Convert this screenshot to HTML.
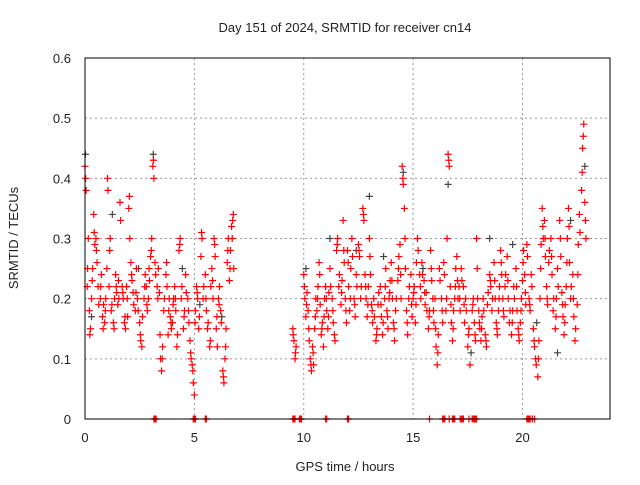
<!DOCTYPE html>
<html><head><meta charset="utf-8"><style>
body{margin:0;background:#fff}
svg text{font-family:"Liberation Sans",sans-serif;font-size:13px;fill:#222}
</style></head><body>
<svg id="chart" width="640" height="480" xmlns="http://www.w3.org/2000/svg">
<text x="345" y="32" text-anchor="middle">Day 151 of 2024, SRMTID for receiver cn14</text>
<text x="345" y="471" text-anchor="middle">GPS time / hours</text>
<text transform="translate(18,238) rotate(-90)" text-anchor="middle">SRMTID / TECUs</text>
<g id="grid"></g><g id="ticks"></g><g id="pts"></g>
<rect x="85" y="58" width="525" height="361" fill="none" stroke="#000" stroke-width="1"/>
</svg>
<script>
const xTicks=[0,5,10,15,20];
const yTicks=[0,0.1,0.2,0.3,0.4,0.5,0.6];
const yTickLabels=["0","0.1","0.2","0.3","0.4","0.5","0.6"];
const redPoints=[[0,0.42],[0.05,0.38],[0.1,0.22],[0.15,0.3],[0.2,0.18],[0.25,0.15],[0.3,0.2],[0.35,0.25],[0.4,0.34],[0.45,0.29],[0.5,0.3],[0.55,0.26],[0.6,0.22],[0.7,0.2],[0.75,0.24],[0.8,0.17],[0.85,0.19],[0.9,0.16],[0.95,0.2],
[1.0,0.25],[1.05,0.38],[1.1,0.22],[1.15,0.3],[1.2,0.18],[1.3,0.16],[1.35,0.2],[1.4,0.24],[1.45,0.21],[1.5,0.19],[1.55,0.2],[1.6,0.36],[1.7,0.22],[1.75,0.2],[1.8,0.16],[1.85,0.15],[1.9,0.22],[1.95,0.17],
[2.0,0.35],[2.05,0.3],[2.1,0.26],[2.15,0.23],[2.2,0.21],[2.3,0.18],[2.35,0.25],[2.4,0.2],[2.5,0.16],[2.55,0.13],[2.6,0.12],[2.7,0.2],[2.75,0.24],[2.8,0.22],[2.85,0.18],[2.9,0.2],[2.95,0.23],
[3.0,0.27],[3.05,0.3],[3.1,0.42],[3.15,0.4],[3.2,0.26],[3.3,0.22],[3.35,0.25],[3.4,0.21],[3.45,0.1],[3.5,0.08],[3.55,0.12],[3.6,0.18],[3.7,0.24],[3.75,0.22],[3.8,0.14],[3.85,0.2],[3.9,0.17],[3.95,0.15],
[4.0,0.16],[4.05,0.2],[4.1,0.22],[4.15,0.18],[4.2,0.12],[4.3,0.28],[4.35,0.3],[4.4,0.2],[4.5,0.15],[4.55,0.18],[4.6,0.24],[4.7,0.2],[4.75,0.16],[4.8,0.13],[4.85,0.1],[4.9,0.09],[4.95,0.06],
[5.0,0.04],[5.05,0.18],[5.1,0.22],[5.15,0.2],[5.2,0.15],[5.3,0.27],[5.35,0.3],[5.4,0.2],[5.5,0.24],[5.55,0.18],[5.6,0.15],[5.7,0.12],[5.75,0.22],[5.8,0.25],[5.85,0.2],[5.9,0.3],[5.95,0.27],
[6.0,0.15],[6.05,0.12],[6.1,0.2],[6.15,0.22],[6.2,0.18],[6.3,0.08],[6.35,0.06],[6.4,0.1],[6.45,0.15],[6.5,0.26],[6.55,0.3],[6.6,0.23],[6.65,0.28],[6.7,0.32],[6.75,0.33],[6.8,0.25],
[9.5,0.15],[9.55,0.13],[9.6,0.1],[9.65,0.12],
[10.0,0.24],[10.05,0.2],[10.1,0.17],[10.15,0.21],[10.2,0.18],[10.25,0.13],[10.3,0.1],[10.35,0.08],[10.4,0.12],[10.45,0.09],[10.5,0.15],[10.55,0.2],[10.6,0.18],[10.65,0.22],[10.7,0.26],[10.75,0.19],[10.8,0.14],[10.85,0.16],[10.9,0.12],[10.95,0.2],
[11.0,0.22],[11.05,0.18],[11.1,0.15],[11.15,0.21],[11.2,0.25],[11.3,0.2],[11.35,0.16],[11.4,0.14],[11.5,0.28],[11.55,0.3],[11.6,0.22],[11.7,0.19],[11.75,0.23],[11.8,0.33],[11.85,0.26],[11.9,0.2],[11.95,0.16],
[12.0,0.28],[12.05,0.22],[12.1,0.18],[12.15,0.25],[12.2,0.3],[12.3,0.2],[12.35,0.17],[12.4,0.24],[12.5,0.29],[12.55,0.27],[12.6,0.2],[12.7,0.35],[12.75,0.33],[12.8,0.24],[12.85,0.2],[12.9,0.17],[12.95,0.22],
[13.0,0.3],[13.05,0.24],[13.1,0.19],[13.15,0.16],[13.2,0.2],[13.3,0.13],[13.35,0.15],[13.4,0.19],[13.5,0.22],[13.55,0.17],[13.6,0.14],[13.7,0.2],[13.75,0.25],[13.8,0.18],[13.85,0.15],[13.9,0.2],[13.95,0.23],
[14.0,0.26],[14.05,0.2],[14.1,0.16],[14.15,0.13],[14.2,0.18],[14.3,0.23],[14.35,0.27],[14.4,0.29],[14.45,0.2],[14.5,0.42],[14.55,0.39],[14.6,0.35],[14.65,0.25],[14.7,0.18],[14.75,0.14],[14.8,0.2],[14.9,0.24],[14.95,0.17],
[15.0,0.2],[15.05,0.22],[15.1,0.16],[15.15,0.26],[15.2,0.3],[15.3,0.24],[15.35,0.2],[15.4,0.26],[15.5,0.23],[15.55,0.19],[15.6,0.21],[15.7,0.15],[15.75,0.18],[15.8,0.28],[15.85,0.23],[15.9,0.2],[15.95,0.16],
[16.0,0.2],[16.05,0.12],[16.1,0.09],[16.15,0.14],[16.2,0.25],[16.3,0.2],[16.35,0.16],[16.4,0.26],[16.5,0.18],[16.55,0.3],[16.6,0.44],[16.65,0.42],[16.7,0.22],[16.75,0.16],[16.8,0.13],[16.85,0.18],[16.9,0.2],[16.95,0.25],
[17.0,0.27],[17.05,0.2],[17.1,0.22],[17.15,0.18],[17.2,0.25],[17.3,0.22],[17.35,0.16],[17.4,0.2],[17.5,0.12],[17.55,0.15],[17.6,0.09],[17.7,0.18],[17.75,0.2],[17.8,0.16],[17.85,0.13],[17.9,0.3],[17.95,0.2],
[18.0,0.18],[18.05,0.15],[18.1,0.13],[18.15,0.17],[18.2,0.2],[18.3,0.14],[18.35,0.12],[18.4,0.19],[18.5,0.24],[18.55,0.22],[18.6,0.18],[18.7,0.26],[18.75,0.2],[18.8,0.16],[18.85,0.14],[18.9,0.18],[18.95,0.22],
[19.0,0.28],[19.05,0.24],[19.1,0.2],[19.15,0.17],[19.2,0.22],[19.3,0.27],[19.35,0.2],[19.4,0.16],[19.5,0.14],[19.55,0.18],[19.6,0.22],[19.7,0.25],[19.75,0.18],[19.8,0.15],[19.85,0.13],[19.9,0.16],[19.95,0.2],
[20.0,0.23],[20.05,0.28],[20.1,0.24],[20.15,0.19],[20.2,0.29],[20.3,0.2],[20.35,0.18],[20.4,0.24],[20.5,0.15],[20.55,0.12],[20.6,0.1],[20.7,0.07],[20.75,0.13],[20.8,0.2],[20.85,0.29],[20.9,0.35],[20.95,0.3],
[21.0,0.33],[21.05,0.27],[21.1,0.22],[21.15,0.19],[21.2,0.26],[21.3,0.3],[21.35,0.24],[21.4,0.18],[21.5,0.15],[21.55,0.2],[21.6,0.25],[21.7,0.33],[21.75,0.27],[21.8,0.21],[21.85,0.17],[21.9,0.14],[21.95,0.19],
[22.0,0.22],[22.05,0.3],[22.1,0.35],[22.15,0.26],[22.2,0.2],[22.3,0.24],[22.35,0.17],[22.4,0.13],[22.5,0.19],[22.55,0.29],[22.6,0.34],[22.7,0.38],[22.75,0.45],[22.8,0.49],[22.85,0.36],[22.9,0.3]];
const redPoints2=[[0.03,0.4],[0.12,0.25],[0.22,0.14],[0.33,0.23],[0.42,0.31],[0.52,0.28],[0.63,0.19],[0.72,0.22],[0.83,0.15],[0.93,0.18],
[1.03,0.4],[1.13,0.28],[1.23,0.19],[1.33,0.15],[1.43,0.22],[1.53,0.23],[1.63,0.33],[1.73,0.21],[1.83,0.17],[1.93,0.2],
[2.03,0.37],[2.13,0.24],[2.23,0.19],[2.33,0.21],[2.43,0.18],[2.53,0.14],[2.63,0.17],[2.73,0.22],[2.83,0.19],[2.93,0.25],
[3.03,0.28],[3.13,0.43],[3.23,0.24],[3.33,0.2],[3.43,0.14],[3.53,0.1],[3.63,0.2],[3.73,0.26],[3.83,0.18],[3.93,0.16],
[4.03,0.19],[4.13,0.2],[4.23,0.14],[4.33,0.29],[4.43,0.22],[4.53,0.17],[4.63,0.21],[4.73,0.18],[4.83,0.11],[4.93,0.08],
[5.03,0.16],[5.13,0.21],[5.23,0.17],[5.33,0.31],[5.43,0.22],[5.53,0.2],[5.63,0.16],[5.73,0.13],[5.83,0.23],[5.93,0.29],
[6.03,0.17],[6.13,0.19],[6.23,0.16],[6.33,0.07],[6.43,0.12],[6.53,0.28],[6.63,0.25],[6.73,0.3],[6.78,0.34],
[9.52,0.14],[9.62,0.11],[10.03,0.22],[10.13,0.19],[10.23,0.15],[10.33,0.09],[10.43,0.11],[10.53,0.17],[10.63,0.2],[10.73,0.24],[10.83,0.15],[10.93,0.17],
[11.03,0.2],[11.13,0.17],[11.23,0.22],[11.33,0.18],[11.43,0.13],[11.53,0.29],[11.63,0.24],[11.73,0.21],[11.83,0.28],[11.93,0.18],
[12.03,0.26],[12.13,0.2],[12.23,0.27],[12.33,0.19],[12.43,0.22],[12.53,0.28],[12.63,0.22],[12.73,0.34],[12.83,0.22],[12.93,0.19],
[13.03,0.27],[13.13,0.18],[13.23,0.17],[13.33,0.14],[13.43,0.21],[13.53,0.19],[13.63,0.16],[13.73,0.22],[13.83,0.17],[13.93,0.21],
[14.03,0.23],[14.13,0.15],[14.23,0.2],[14.33,0.25],[14.43,0.24],[14.53,0.4],[14.63,0.3],[14.73,0.16],[14.83,0.22],[14.93,0.19],
[15.03,0.21],[15.13,0.19],[15.23,0.28],[15.33,0.22],[15.43,0.24],[15.53,0.21],[15.63,0.18],[15.73,0.17],[15.83,0.25],[15.93,0.18],
[16.03,0.15],[16.13,0.11],[16.23,0.23],[16.33,0.18],[16.43,0.24],[16.53,0.2],[16.63,0.43],[16.73,0.19],[16.83,0.15],[16.93,0.22],
[17.03,0.23],[17.13,0.2],[17.23,0.23],[17.33,0.19],[17.43,0.18],[17.53,0.14],[17.73,0.19],[17.83,0.14],[17.93,0.25],
[18.03,0.16],[18.13,0.15],[18.23,0.18],[18.33,0.13],[18.43,0.21],[18.53,0.23],[18.63,0.2],[18.73,0.23],[18.83,0.15],[18.93,0.2],
[19.03,0.26],[19.13,0.18],[19.23,0.24],[19.33,0.23],[19.43,0.18],[19.53,0.16],[19.63,0.2],[19.73,0.22],[19.83,0.14],[19.93,0.18],
[20.03,0.26],[20.13,0.21],[20.23,0.27],[20.33,0.19],[20.43,0.22],[20.53,0.13],[20.63,0.09],[20.73,0.1],[20.83,0.25],[20.93,0.32],
[21.03,0.3],[21.13,0.2],[21.23,0.28],[21.33,0.27],[21.43,0.2],[21.53,0.17],[21.63,0.22],[21.73,0.3],[21.83,0.19],[21.93,0.16],
[22.03,0.26],[22.13,0.32],[22.23,0.22],[22.33,0.2],[22.43,0.15],[22.53,0.24],[22.63,0.31],[22.73,0.41],[22.78,0.47],[22.88,0.33]];
const grayPoints=[[0.02,0.44],[0.3,0.17],[1.25,0.34],[2.45,0.25],[3.12,0.44],[4.45,0.25],[5.25,0.19],[6.25,0.17],[10.1,0.25],[11.2,0.3],[12.4,0.28],[13.0,0.37],[13.65,0.27],[14.55,0.41],[15.45,0.25],[16.6,0.39],[17.65,0.11],[18.5,0.3],[19.55,0.29],[20.65,0.16],[21.6,0.11],[22.2,0.33],[22.85,0.42]];
const zeroTimes=[3.15,3.2,3.25,4.95,5.0,5.05,5.5,5.55,9.5,9.55,9.6,9.8,9.85,9.9,11.0,11.05,12.0,12.05,15.75,16.35,16.4,16.45,16.65,16.8,16.85,16.9,17.15,17.2,17.25,17.3,17.55,17.7,17.75,17.8,17.85,17.9,20.2,20.25,20.3,20.35,20.45,20.55];
const X=t=>85+t*525/24, Y=v=>419-v*361/0.6;
const NS="http://www.w3.org/2000/svg";
function mk(tag,attrs,parent){const e=document.createElementNS(NS,tag);for(const k in attrs)e.setAttribute(k,attrs[k]);document.getElementById(parent).appendChild(e);return e;}
xTicks.forEach(t=>{
 const g=mk('line',{x1:X(t),x2:X(t),y1:58,y2:419,stroke:'#999','stroke-dasharray':'2,3'},'grid');
 
 
 const l=mk('text',{x:X(t),y:442,'text-anchor':'middle'},'ticks');l.textContent=t;
 
 
});
yTicks.forEach((v,i)=>{
 const g=mk('line',{x1:85,x2:610,y1:Y(v),y2:Y(v),stroke:'#999','stroke-dasharray':'2,3'},'grid');
 
 
 const l=mk('text',{x:71,y:Y(v)+5,'text-anchor':'end'},'ticks');l.textContent=yTickLabels[i];
 
 
});
function plus(x,y,c,name){
 const p=mk('path',{d:`M${x-3.5},${y}h7M${x},${y-3.5}v7`,stroke:c,'stroke-width':1.2,fill:'none'},'pts');
 
 
}
grayPoints.forEach(p=>plus(X(p[0]),Y(p[1]),'#444','gray-point'));
redPoints.forEach(p=>plus(X(p[0]),Y(p[1]),'#f00','red-point'));
redPoints2.forEach(p=>plus(X(p[0]),Y(p[1]),'#f00','red-point'));
zeroTimes.forEach(t=>plus(X(t),Y(0),'#f00','zero-point'));
</script>
</body></html>
